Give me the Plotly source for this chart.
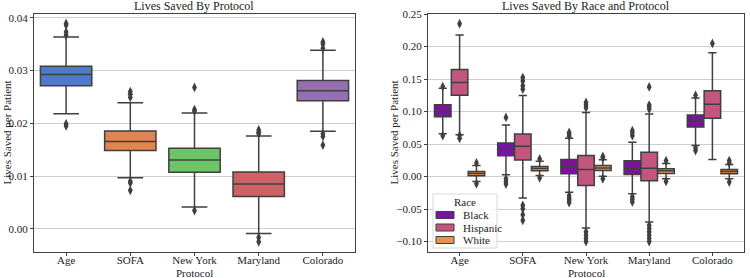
import plotly.graph_objects as go

# ---------------- data ----------------
protocols = ["Age", "SOFA", "New York", "Maryland", "Colorado"]

# Left panel: overall lives saved per patient
all_q1 = [0.0271, 0.01484, 0.0107, 0.0061, 0.02428]
all_med = [0.02925, 0.01654, 0.01302, 0.0085, 0.02616]
all_q3 = [0.0308, 0.01855, 0.01528, 0.01075, 0.02811]
all_lo = [0.0218, 0.00969, 0.00415, -0.00088, 0.01849]
all_hi = [0.03635, 0.0239, 0.02195, 0.0176, 0.03384]
all_out = [
    [0.0389, 0.0386, 0.0373, 0.0367, 0.0199, 0.0195],
    [0.0260, 0.0255, 0.0249, 0.0090, 0.0087, 0.0073],
    [0.0268, 0.0226, 0.0223, 0.00346],
    [0.01874, 0.0183, 0.0180, -0.00164, -0.00245],
    [0.0354, 0.0350, 0.0342, 0.0180, 0.0175, 0.01585],
]

# Right panel: by race
races = ["Black", "Hispanic", "White"]
race_q1 = {
    "Black": [0.0921, 0.0319, 0.0042, 0.0032, 0.0763],
    "Hispanic": [0.1253, 0.0257, -0.0137, -0.0065, 0.0896],
    "White": [0.0012, 0.0089, 0.0093, 0.0047, 0.0043],
}
race_med = {
    "Black": [0.1003, 0.0419, 0.0155, 0.0130, 0.0865],
    "Hispanic": [0.1448, 0.0466, 0.0109, 0.0130, 0.1115],
    "White": [0.0047, 0.0125, 0.0134, 0.0088, 0.0078],
}
race_q3 = {
    "Black": [0.1105, 0.0517, 0.0262, 0.0242, 0.0947],
    "Hispanic": [0.1647, 0.0655, 0.0324, 0.0375, 0.1320],
    "White": [0.0078, 0.0155, 0.0170, 0.0119, 0.0109],
}
race_lo = {
    "Black": [0.0660, 0.0027, -0.0240, -0.0266, 0.0477],
    "Hispanic": [0.0645, -0.0330, -0.0790, -0.0698, 0.0262],
    "White": [-0.0075, 0.0017, 0.0007, -0.0034, -0.0034],
}
race_hi = {
    "Black": [0.1360, 0.0793, 0.0590, 0.0527, 0.1210],
    "Hispanic": [0.2178, 0.1248, 0.0988, 0.0962, 0.1907],
    "White": [0.0170, 0.0236, 0.0260, 0.0200, 0.0185],
}
race_out = {
    "Black": [
        [0.1385, 0.0630],
        [0.0910, -0.0034, -0.0075, -0.0116],
        [0.0620, 0.0650, 0.0680, -0.0290, -0.0330, -0.0360, -0.0400],
        [0.0630, 0.0670, 0.0706, -0.0312, -0.0350, -0.0390],
        [0.1250, 0.0440, 0.0400],
    ],
    "Hispanic": [
        [0.2352, 0.0635, 0.0590],
        [0.1524, 0.1473, 0.1397, 0.1345, -0.0443, -0.0494, -0.0586, -0.0673],
        [0.1140, 0.1100, 0.1060, -0.0850, -0.0900, -0.0950, -0.1000],
        [0.1380, 0.1100, 0.1070, 0.1040, -0.0750, -0.0800, -0.0850, -0.0900, -0.0950, -0.1000],
        [0.2050],
    ],
    "White": [
        [0.0210, -0.0110],
        [0.0272, -0.0019],
        [0.0290, 0.0310, -0.0034],
        [0.0245, -0.0075],
        [0.0247, 0.0210, -0.0085],
    ],
}

# ---------------- style ----------------
left_colors = ["#4f79c9", "#df8552", "#6cc566", "#cc6264", "#9470b1"]
race_colors = {"Black": "#7b12a2", "Hispanic": "#c4557f", "White": "#e8924c"}
edge = "#3f3f3f"
grid = "#cccccc"
FF = "Liberation Serif, Times New Roman, serif"

W, H = 750, 278
fig = go.Figure()

# Left panel boxes
for i, p in enumerate(protocols):
    fig.add_trace(go.Box(
        x=[i], q1=[all_q1[i]], median=[all_med[i]], q3=[all_q3[i]],
        lowerfence=[all_lo[i]], upperfence=[all_hi[i]],
        width=0.8, whiskerwidth=0.5, boxpoints=False,
        fillcolor=left_colors[i], line=dict(color=edge, width=1.5),
        xaxis="x", yaxis="y", showlegend=False, name=p,
    ))
    fig.add_trace(go.Scatter(
        x=[i] * len(all_out[i]), y=all_out[i], mode="markers",
        marker=dict(symbol="diamond-tall", size=7, color=edge),
        xaxis="x", yaxis="y", showlegend=False, hoverinfo="y",
    ))

# Right panel boxes
bw = 0.8 / len(races)
for k, r in enumerate(races):
    off = (k - (len(races) - 1) / 2) * bw
    xs = [i + off for i in range(len(protocols))]
    fig.add_trace(go.Box(
        x=xs, q1=race_q1[r], median=race_med[r], q3=race_q3[r],
        lowerfence=race_lo[r], upperfence=race_hi[r],
        width=bw * 0.98, whiskerwidth=0.5, boxpoints=False,
        fillcolor=race_colors[r], line=dict(color=edge, width=1.5),
        xaxis="x2", yaxis="y2", name=r, showlegend=False,
    ))
    ox, oy = [], []
    for i in range(len(protocols)):
        ox += [i + off] * len(race_out[r][i])
        oy += race_out[r][i]
    fig.add_trace(go.Scatter(
        x=ox, y=oy, mode="markers",
        marker=dict(symbol="diamond-tall", size=7, color=edge),
        xaxis="x2", yaxis="y2", showlegend=False, hoverinfo="y",
    ))

ydom = [(H - 251.5) / H, (H - 13.5) / H]
xdom1 = [34 / W, 355 / W]
xdom2 = [428 / W, 744 / W]

axis_common = dict(
    showline=True, mirror=True, linecolor="#404040", linewidth=1,
    ticks="outside", ticklen=3, tickcolor="#404040",
    tickfont=dict(family=FF, size=11, color="#222"),
    zeroline=False, automargin=False,
)

fig.update_layout(
    width=W, height=H,
    margin=dict(l=0, r=0, t=0, b=0),
    paper_bgcolor="white", plot_bgcolor="white",
    font=dict(family=FF, color="#222"),
    xaxis=dict(domain=xdom1, range=[-0.5, 4.5], tickvals=list(range(5)),
               ticktext=protocols, showgrid=False, ticklabelstandoff=-5, **axis_common),
    yaxis=dict(domain=ydom, range=[-0.0043, 0.0408], tickvals=[0, 0.01, 0.02, 0.03, 0.04],
               tickformat=".2f", showgrid=True, gridcolor=grid, gridwidth=1, **axis_common),
    xaxis2=dict(domain=xdom2, range=[-0.5, 4.5], tickvals=list(range(5)),
                ticktext=protocols, showgrid=False, anchor="y2", ticklabelstandoff=-5,
                **axis_common),
    yaxis2=dict(domain=ydom, range=[-0.1153, 0.251],
                tickvals=[-0.10, -0.05, 0, 0.05, 0.10, 0.15, 0.20, 0.25],
                tickformat=".2f", showgrid=True, gridcolor=grid, gridwidth=1,
                anchor="x2", **axis_common),
    showlegend=False,
)

# custom legend (paper pixel coordinates)
def px(x):
    return x / W

def py(y):
    return (H - y) / H

fig.add_shape(type="rect", xref="paper", yref="paper",
              x0=px(433), x1=px(497), y0=py(248), y1=py(194),
              fillcolor="rgba(255,255,255,0.85)", line=dict(color="#d9d9d9", width=1))
fig.add_annotation(text="Race", xref="paper", yref="paper", x=px(465), y=py(202),
                   showarrow=False, xanchor="center", yanchor="middle",
                   font=dict(family=FF, size=11, color="#222"))
for k, r in enumerate(races):
    yc = 215 + k * 12.5
    fig.add_shape(type="rect", xref="paper", yref="paper",
                  x0=px(436), x1=px(454), y0=py(yc + 3.5), y1=py(yc - 3.5),
                  fillcolor=race_colors[r], line=dict(color=edge, width=1))
    fig.add_annotation(text=r, xref="paper", yref="paper", x=px(461), y=py(yc),
                       showarrow=False, xanchor="left", yanchor="middle",
                       font=dict(family=FF, size=11, color="#222"))

ann = dict(xref="paper", yref="paper", showarrow=False,
           font=dict(family=FF, size=12, color="#222"))
fig.add_annotation(text="Lives Saved By Protocol", x=(xdom1[0] + xdom1[1]) / 2,
                   y=py(6), xanchor="center", yanchor="middle", **ann)
fig.add_annotation(text="Lives Saved By Race and Protocol", x=(xdom2[0] + xdom2[1]) / 2,
                   y=py(6), xanchor="center", yanchor="middle", **ann)
ann11 = dict(ann)
ann11["font"] = dict(family=FF, size=11, color="#222")
fig.add_annotation(text="Protocol", x=(xdom1[0] + xdom1[1]) / 2, y=py(272.5),
                   xanchor="center", yanchor="middle", **ann11)
fig.add_annotation(text="Protocol", x=(xdom2[0] + xdom2[1]) / 2, y=py(272.5),
                   xanchor="center", yanchor="middle", **ann11)
fig.add_annotation(text="Lives Saved per Patient", x=px(6), y=(ydom[0] + ydom[1]) / 2,
                   textangle=-90, xanchor="center", yanchor="middle", **ann11)
fig.add_annotation(text="Lives Saved per Patient", x=px(393), y=(ydom[0] + ydom[1]) / 2,
                   textangle=-90, xanchor="center", yanchor="middle", **ann11)

fig.write_html(
    "out.html",
    config={"displayModeBar": False},
    post_script="document.body.style.margin='0';document.body.style.padding='0';"
                "document.documentElement.style.overflow='hidden';",
)
